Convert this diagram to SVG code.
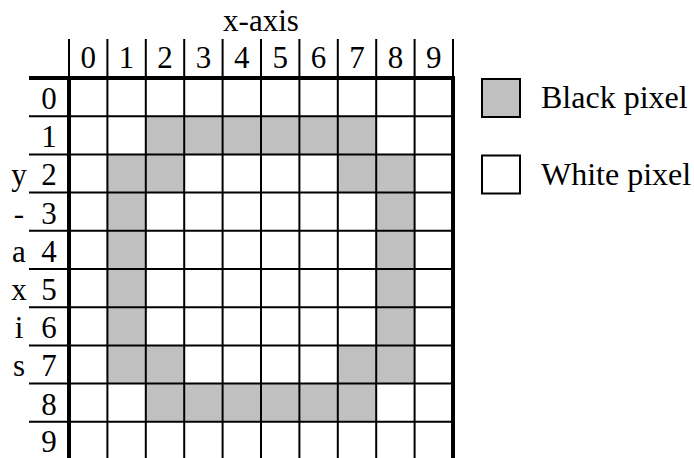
<svg xmlns="http://www.w3.org/2000/svg" width="694" height="458" viewBox="0 0 694 458">
<style>
text{font-family:"Liberation Serif","Times New Roman",serif;font-size:31px;fill:#000}
.c{text-anchor:middle}
.lg{font-size:32px}
.thin{stroke:#000;stroke-width:2;fill:none}
.thick{stroke:#000;stroke-width:4;fill:none}
.g{fill:#C0C0C0}
</style>
<rect width="694" height="458" fill="#fff"/>
<g id="cells">
<rect class="g" x="145.8" y="116.2" width="230.4" height="38.2"/>
<rect class="g" x="107.4" y="154.4" width="76.8" height="38.2"/>
<rect class="g" x="337.8" y="154.4" width="76.8" height="38.2"/>
<rect class="g" x="107.4" y="192.6" width="38.4" height="152.8"/>
<rect class="g" x="376.2" y="192.6" width="38.4" height="152.8"/>
<rect class="g" x="107.4" y="345.4" width="76.8" height="38.2"/>
<rect class="g" x="337.8" y="345.4" width="76.8" height="38.2"/>
<rect class="g" x="145.8" y="383.6" width="230.4" height="38.2"/>
</g>
<g id="grid">
<path class="thin" d="M107.4 39V458M145.8 39V458M184.2 39V458M222.6 39V458M261 39V458M299.4 39V458M337.8 39V458M376.2 39V458M414.6 39V458M69 39V78M453 39V78"/>
<path class="thin" d="M29 116.2H453M29 154.4H453M29 192.6H453M29 230.8H453M29 269H453M29 307.2H453M29 345.4H453M29 383.6H453M29 421.8H453"/>
<path class="thick" d="M29 78H455M69 76V458M453 76V458"/>
</g>
<g id="x-axis">
<text class="c" x="261" y="31">x-axis</text>
<text class="c" x="88.2" y="68">0</text>
<text class="c" x="126.6" y="68">1</text>
<text class="c" x="165" y="68">2</text>
<text class="c" x="203.4" y="68">3</text>
<text class="c" x="241.8" y="68">4</text>
<text class="c" x="280.2" y="68">5</text>
<text class="c" x="318.6" y="68">6</text>
<text class="c" x="357" y="68">7</text>
<text class="c" x="395.4" y="68">8</text>
<text class="c" x="433.8" y="68">9</text>
</g>
<g id="y-axis">
<text class="c" x="49" y="109">0</text>
<text class="c" x="49" y="147.2">1</text>
<text class="c" x="49" y="185.4">2</text>
<text class="c" x="49" y="223.6">3</text>
<text class="c" x="49" y="261.8">4</text>
<text class="c" x="49" y="300">5</text>
<text class="c" x="49" y="338.2">6</text>
<text class="c" x="49" y="376.4">7</text>
<text class="c" x="49" y="414.6">8</text>
<text class="c" x="49" y="451.5">9</text>
<text class="c" x="19" y="185.4">y</text>
<text class="c" x="19" y="223.6">-</text>
<text class="c" x="19" y="261.8">a</text>
<text class="c" x="19" y="300">x</text>
<text class="c" x="19" y="338.2">i</text>
<text class="c" x="19" y="376.4">s</text>
</g>
<g id="legend-black">
<rect x="482" y="79" width="38" height="38" fill="#C0C0C0" stroke="#000" stroke-width="2"/>
<text class="lg" x="541" y="108">Black pixel</text>
</g>
<g id="legend-white">
<rect x="482" y="155.5" width="38" height="38" fill="#fff" stroke="#000" stroke-width="2"/>
<text class="lg" x="541" y="185">White pixel</text>
</g>
</svg>
